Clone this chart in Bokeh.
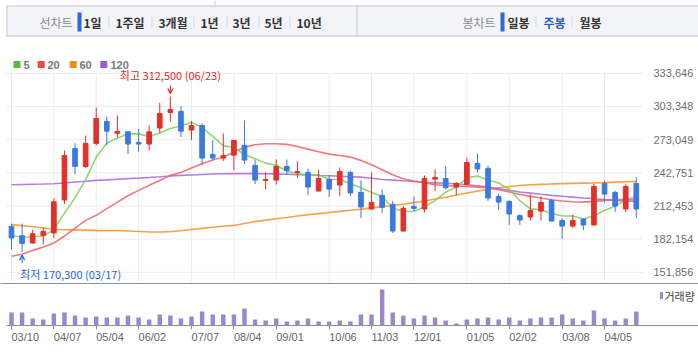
import numpy as np
from bokeh.plotting import figure
from bokeh.layouts import column
from bokeh.models import (Range1d, LinearAxis, FixedTicker, NumeralTickFormatter,
                          Span, Arrow, OpenHead, ColumnDataSource)
from bokeh.core.properties import value
from bokeh.embed import file_html
from bokeh.resources import INLINE

# ---------------- data (weekly candles) ----------------
weeks = list(range(60))
opens = [193800, 185300, 178600, 185600, 187800, 217900, 265000, 248600, 269600, 289700,
         279000, 280200, 270500, 269000, 283600, 297900, 298800, 281800, 286000, 259500,
         256200, 258900, 267800, 249500, 235800, 236100, 248600, 243100, 243100, 226100,
         236700, 231600, 243100, 224900, 209700, 222100, 213900, 189600, 212100, 209700,
         237000, 237600, 229700, 232200, 251300, 246800, 221200, 216700, 203600, 202400,
         207800, 217600, 199300, 194100, 200500, 195100, 233100, 224900, 209700, 233100]
highs = [196300, 196300, 190800, 192300, 219400, 263200, 269600, 276900, 302400, 294200,
         295100, 280800, 283000, 286000, 306700, 312500, 303300, 290000, 288100, 272600,
         278700, 272800, 290600, 254700, 243400, 255000, 255000, 253200, 246500, 245600,
         240100, 247700, 244900, 235800, 243100, 227600, 217000, 212400, 221200, 240400,
         245900, 248900, 234300, 256500, 260500, 249500, 223600, 217600, 204800, 223000,
         221200, 219100, 201400, 204500, 201100, 232800, 235500, 226400, 232200, 238600]
lows = [172800, 170300, 177900, 177400, 183200, 214200, 241600, 247100, 267800, 268100,
        275100, 259800, 262000, 263200, 279000, 289700, 275400, 272600, 249800, 254100,
        253500, 244900, 250700, 232500, 227600, 232100, 241000, 237900, 222400, 225800,
        220600, 221500, 221500, 201400, 209000, 206000, 187800, 189000, 207800, 206600,
        225800, 227600, 222400, 231300, 243400, 217000, 208700, 195100, 195100, 199300,
        199300, 198500, 182300, 192300, 190500, 194500, 215400, 206900, 206900, 201400]
closes = [183200, 178300, 187100, 189300, 216300, 258600, 248600, 269600, 292400, 280800,
          280500, 269000, 269000, 280200, 297000, 300600, 280800, 286000, 256200, 256200,
          258600, 272300, 254400, 236100, 236700, 248600, 244900, 244000, 229700, 237600,
          227900, 244000, 224300, 211500, 215700, 211200, 189600, 210300, 210300, 237600,
          238600, 229100, 233100, 252200, 246200, 219700, 216000, 205100, 199600, 208400,
          215700, 198700, 194100, 199300, 195100, 230300, 223300, 212400, 230300, 209700]
volumes = [650, 650, 350, 300, 600, 650, 500, 400, 450, 400,
           400, 500, 400, 300, 550, 500, 350, 450, 700, 550,
           550, 550, 850, 300, 250, 350, 200, 250, 350, 200,
           200, 250, 200, 550, 550, 1800, 650, 500, 350, 500,
           400, 250, 100, 300, 350, 400, 300, 400, 250, 350,
           400, 400, 550, 350, 250, 750, 350, 250, 350, 700]
ma5 = [185300, 184100, 184100, 185000, 190900, 205900, 220000, 236500, 257100, 270000,
       274400, 278500, 278300, 275900, 279100, 283200, 285500, 288900, 284100, 276000,
       267600, 265900, 259500, 255500, 251600, 249600, 244200, 242100, 240800, 241000,
       236900, 236700, 232700, 229100, 224700, 221300, 210400, 207600, 207400, 211800,
       217300, 225200, 229700, 238100, 239800, 236100, 233400, 227800, 217300, 209800,
       209000, 205500, 203300, 203300, 200600, 203500, 208400, 212100, 218300, 221200]
ma20 = [166500, 168300, 171900, 175000, 178600, 185000, 192300, 199300, 203900, 210000,
        216000, 221800, 226700, 231300, 235800, 240400, 243100, 247100, 251000, 254500,
        257100, 261700, 266200, 268400, 269300, 269300, 268700, 266800, 264400, 262000,
        259800, 258600, 257100, 254100, 250100, 245600, 241000, 237300, 235200, 233800,
        231900, 231300, 230600, 230300, 229700, 229100, 227300, 225200, 223000, 221200,
        219700, 218200, 217000, 216300, 216000, 216700, 217600, 218200, 218500, 218500]
ma60 = [195400, 194500, 193500, 192500, 191000, 190800, 190600, 190400, 190200, 190100,
        190000, 189600, 189200, 188700, 188700, 189000, 189800, 191000, 192000, 193000,
        194000, 194700, 196500, 198200, 199500, 200800, 202000, 203300, 204500, 205500,
        206500, 207500, 208500, 209500, 210700, 211800, 212900, 214000, 215500, 217000,
        218800, 220500, 222500, 224300, 226000, 227700, 229000, 230300, 231200, 231800,
        232200, 232600, 232900, 233100, 233300, 233500, 233800, 234200, 234600, 234900]
ma120 = [231900, 232100, 232300, 232500, 232800, 233500, 234300, 235000, 235800, 236300,
         236900, 237400, 237900, 238500, 239100, 239800, 240400, 240800, 241200, 241600,
         241900, 242000, 242000, 242000, 241900, 241800, 241500, 241100, 240700, 240300,
         240000, 239600, 239200, 238800, 237800, 236700, 236100, 235500, 234800, 234000,
         233600, 233200, 232800, 231800, 230800, 229700, 228200, 226700, 225200, 224200,
         223100, 222100, 221300, 220500, 219700, 219000, 218300, 217600, 217100, 216700]
tick_weeks = [0, 4, 8, 12, 17, 21, 25, 30, 34, 38, 43, 47, 52, 56]
tick_labels = ["03/10", "04/07", "05/04", "06/02", "07/07", "08/04", "09/01",
               "10/06", "11/03", "12/01", "01/05", "02/02", "03/08", "04/05"]
price_ticks = [151856, 182154, 212453, 242751, 273049, 303348, 333646]
ma_names = ["5", "20", "60", "120"]
high_date = "06/23"
low_date = "03/17"
left_title = "선차트"
left_tabs = ["1일", "1주일", "3개월", "1년", "3년", "5년", "10년"]
right_title = "봉차트"
right_tabs = ["일봉", "주봉", "월봉"]
volume_name = "거래량"

# ---------------- layout constants (page pixels) ----------------
W, H = 698, 354
HDR_H = 40
FRAME_TOP, FRAME_BOT = HDR_H, H
AXIS_Y = 325
SEP_Y = 283
WEEK_PX = 10.59
WEEK0_PX = 11.0
TOP_TICK_PX = 72.8
TICK_STEP_PX = 33.17
VOL_PER_PX = 50.0
GRID_LEFT_PX, GRID_RIGHT_PX = 6, 642

PPX = (price_ticks[1] - price_ticks[0]) / TICK_STEP_PX


def price_at(py):
    return price_ticks[-1] - (py - TOP_TICK_PX) * PPX


def week_at(px):
    return (px - WEEK0_PX) / WEEK_PX


def vol_at(py):
    return (AXIS_Y - py) * VOL_PER_PX


KR = value("Noto Sans CJK KR")
LAT = value("Liberation Sans")
UP, DOWN = "#e3302a", "#3a7ae0"
MA_COLORS = ["#7ccf58", "#f26060", "#f4902c", "#a86ad6"]
MA_KEY_COLORS = ["#5cbb3b", "#ef4646", "#f38a1e", "#9c5dd0"]
VOL_COLOR = "#9c87c8"
GRID = "#ececec"
AXIS_COL = "#8f8f8f"

# ---------------- main chart ----------------
p = figure(width=W, height=H - HDR_H,
           x_range=Range1d(week_at(0), week_at(W)),
           y_range=Range1d(price_at(FRAME_BOT), price_at(FRAME_TOP)),
           output_backend="svg", toolbar_location=None,
           min_border_left=0, min_border_right=0, min_border_top=0, min_border_bottom=0,
           x_axis_location=None, y_axis_location=None)
p.grid.visible = False
p.outline_line_color = None
p.background_fill_color = "white"
p.border_fill_color = "white"
p.extra_y_ranges = {"vol": Range1d(vol_at(FRAME_BOT), vol_at(FRAME_TOP))}

sep_price = price_at(SEP_Y)
axis_price = price_at(AXIS_Y)
gl, gr = week_at(GRID_LEFT_PX), week_at(GRID_RIGHT_PX)
# grid lines
p.segment(x0=gl, x1=gr, y0=price_ticks, y1=price_ticks, line_color=GRID, line_width=1)
p.segment(x0=tick_weeks, x1=tick_weeks, y0=sep_price, y1=price_ticks[-1],
          line_color=GRID, line_width=1)
p.add_layout(Span(location=sep_price, dimension="width", line_color="#8d96a0", line_width=1))

# volume
p.vbar(x=weeks, top=volumes, bottom=0, width=0.42, y_range_name="vol",
       fill_color=VOL_COLOR, line_color=None)

# moving averages
for ma, col in zip([ma60, ma120, ma20, ma5], [MA_COLORS[2], MA_COLORS[3], MA_COLORS[1], MA_COLORS[0]]):
    p.line(weeks, ma, line_color=col, line_width=1.6, line_alpha=0.85)

# candles
colors = [UP if c >= o else DOWN for o, c in zip(opens, closes)]
src = ColumnDataSource(dict(x=weeks, h=highs, l=lows,
                            top=[max(o, c) for o, c in zip(opens, closes)],
                            bot=[min(o, c) for o, c in zip(opens, closes)],
                            color=colors))
p.segment(x0="x", y0="l", x1="x", y1="h", line_color="color", line_width=1, source=src)
p.vbar(x="x", top="top", bottom="bot", width=0.44, fill_color="color",
       line_color="color", line_width=1, source=src)

# high / low annotations
hi = int(np.argmax(highs))
lo = int(np.argmin(lows))
HI_COL, LO_COL = "#ee1d1d", "#2468d6"
p.text(x=[hi], y=[highs[hi]], text=[f"최고 {highs[hi]:,} ({high_date})"],
       text_font=KR, text_font_size="11px", text_color=HI_COL,
       text_align="center", text_baseline="bottom", y_offset=-13)
p.add_layout(Arrow(end=OpenHead(size=5, line_color=HI_COL, line_width=1.2),
                   x_start=hi, y_start=highs[hi] + 11 * PPX, x_end=hi, y_end=highs[hi] + 3 * PPX,
                   line_color=HI_COL, line_width=1))
p.text(x=[lo], y=[lows[lo]], text=[f"최저 {lows[lo]:,} ({low_date})"],
       text_font=KR, text_font_size="11px", text_color=LO_COL,
       text_align="left", text_baseline="top", x_offset=-2, y_offset=14)
p.add_layout(Arrow(end=OpenHead(size=5, line_color=LO_COL, line_width=1.2),
                   x_start=lo, y_start=lows[lo] - 11 * PPX, x_end=lo, y_end=lows[lo] - 3 * PPX,
                   line_color=LO_COL, line_width=1))

# MA legend (above the price grid)
key_x = [week_at(v) for v in (16.5, 40.7, 72.7, 103.3)]
key_tx = [week_at(v) for v in (23, 47, 79, 110)]
p.rect(x=key_x, y=[price_at(64)] * 4, width=7, height=7, width_units="screen",
       height_units="screen", fill_color=MA_KEY_COLORS, line_color=None)
p.text(x=key_tx, y=[price_at(64.5)] * 4, text=ma_names, text_font=LAT, text_font_size="11px",
       text_font_style="bold", text_color="#7a7a7a", text_align="left", text_baseline="middle")

# volume legend
p.rect(x=[week_at(661)], y=[vol_at(295)], width=3, height=7, width_units="screen",
       height_units="screen", y_range_name="vol", fill_color=VOL_COLOR, line_color=None)
p.text(x=[week_at(664)], y=[vol_at(295)], text=[volume_name], y_range_name="vol",
       text_font=KR, text_font_size="11px", text_color="#444444",
       text_align="left", text_baseline="middle")

# x axis (line and ticks) at the bottom of the volume pane
xa = LinearAxis(fixed_location=axis_price, ticker=FixedTicker(ticks=tick_weeks),
                bounds=(gl, week_at(W)))
xa.axis_line_color = AXIS_COL
xa.major_tick_line_color = AXIS_COL
xa.major_tick_in = 0
xa.major_tick_out = 4
xa.minor_tick_line_color = None
xa.major_label_text_color = None
p.add_layout(xa, "below")
# date labels start at their tick
p.text(x=tick_weeks, y=[axis_price] * len(tick_weeks), text=tick_labels,
       text_font=LAT, text_font_size="11px", text_color="#666666",
       text_align="left", text_baseline="top", y_offset=5)

# price axis on the right
ya = LinearAxis(fixed_location=gr, ticker=FixedTicker(ticks=price_ticks),
                formatter=NumeralTickFormatter(format="0,0"))
ya.axis_line_color = None
ya.major_tick_line_color = None
ya.minor_tick_line_color = None
ya.major_label_standoff = 5
ya.major_label_text_font = "Liberation Sans"
ya.major_label_text_font_size = "11px"
ya.major_label_text_color = "#6e6e6e"
p.add_layout(ya, "right")

# ---------------- header: period tabs ----------------
h = figure(width=W, height=HDR_H, x_range=Range1d(0, W), y_range=Range1d(HDR_H, 0),
           output_backend="svg", toolbar_location=None,
           min_border_left=0, min_border_right=0, min_border_top=0, min_border_bottom=0,
           x_axis_location=None, y_axis_location=None)
h.grid.visible = False
h.outline_line_color = None
h.quad(left=[6], right=[W], top=[5], bottom=[36], fill_color="#f3f4f8", line_color=None)
h.segment(x0=[6, 6, 6.5, 356.5, 214.5], y0=[5.5, 35.5, 5, 5, 0],
          x1=[W, W, 6.5, 356.5, 214.5], y1=[5.5, 35.5, 36, 36, 5],
          line_color="#c6cad1", line_width=1)
TAB_Y = 21.5
h.text(x=[39, 462], y=[TAB_Y, TAB_Y], text=[left_title, right_title], text_font=KR,
       text_font_size="12px", text_color="#8a8a8a", text_align="left", text_baseline="middle")
h.quad(left=[77, 500], right=[81, 504], top=[12, 12], bottom=[31, 31],
       fill_color="#2e66dc", line_color=None)
lx = [83, 115, 158, 200, 232, 264, 296]
rx = [507, 543, 579]
tab_colors = ["#333333"] * len(left_tabs) + ["#333333", "#2b5cbc", "#333333"]
h.text(x=lx + rx, y=[TAB_Y] * (len(lx) + len(rx)), text=left_tabs + right_tabs,
       text_color=tab_colors, text_font=KR, text_font_size="12px", text_font_style="bold",
       text_align="left", text_baseline="middle")
sx = [108.5, 151.5, 193.5, 226.5, 258.5, 289.5, 535.5, 571.5]
h.segment(x0=sx, x1=sx, y0=16, y1=27, line_color="#d3d6dc", line_width=1)

layout = column(h, p, spacing=0)
open("out.html", "w").write(file_html(layout, INLINE))
